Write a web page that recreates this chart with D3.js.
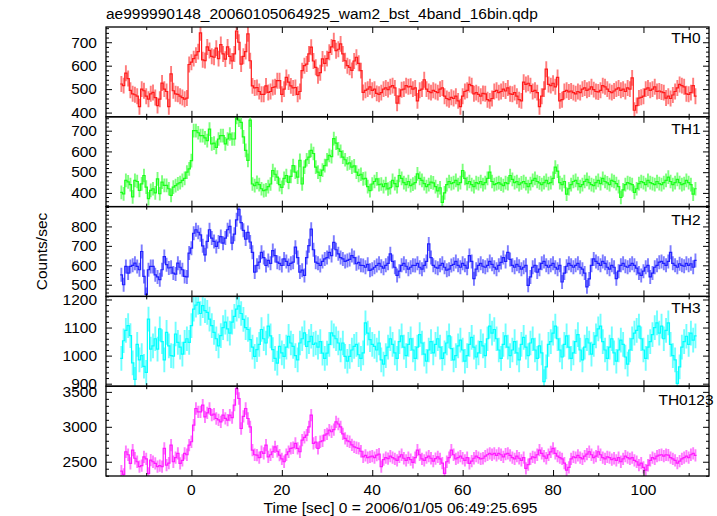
<!DOCTYPE html>
<html><head><meta charset="utf-8">
<script src="https://cdn.jsdelivr.net/npm/d3@7"></script>
<style>body{margin:0;background:#fff} text{font-family:"Liberation Sans",Arial,Helvetica,sans-serif;fill:#000}</style>
</head><body><svg id="c" width="717" height="516"></svg>
<script>
const titleText = "ae999990148_20060105064925_wam2_bst_4band_16bin.qdp";
const xTitle = "Time [sec] 0 = 2006/01/05 06:49:25.695";
const yTitle = "Counts/sec";
const bands = ["TH0","TH1","TH2","TH3","TH0123"];
const tStart = -15.5, binSize = 0.5;

const th0 = [522,515,568,545,495,480,476,470,425,500,
 493,470,457,480,486,464,430,457,526,500,
 490,425,565,493,480,478,470,464,457,462,
 605,615,630,645,660,740,625,622,680,665,
 640,636,675,630,690,650,628,680,640,620,
 650,748,700,607,640,660,736,621,514,505,
 507,490,478,478,514,486,490,507,510,536,
 536,478,500,550,530,514,505,507,478,490,
 579,600,607,650,679,620,593,557,570,629,
 610,630,657,680,707,664,670,693,650,621,
 600,593,580,620,636,610,579,486,495,500,
 510,495,500,482,478,485,500,505,498,510,
 515,505,440,470,497,500,515,510,512,500,
 505,450,495,500,540,500,490,485,495,490,
 485,500,505,470,460,455,465,460,470,450,
 425,470,490,495,520,515,480,485,478,470,
 482,480,455,450,460,490,495,485,490,500,
 492,505,480,478,485,470,455,450,530,520,
 525,515,490,495,485,425,470,500,585,520,
 515,525,510,550,450,455,490,495,488,492,
 485,480,490,485,500,505,495,500,510,498,
 490,488,495,515,510,500,490,485,492,500,
 505,495,500,490,505,500,548,410,430,462,
 465,470,500,505,495,500,510,490,492,488,
 485,462,470,460,475,490,505,520,515,510,
 480,478,485,515,470];

const th1 = [403,395,460,453,440,381,460,455,412,444,
 484,428,372,412,420,400,468,396,452,436,
 436,420,388,428,435,444,450,460,470,500,
 516,556,700,700,690,676,676,665,652,708,
 636,640,620,660,676,676,636,660,684,660,
 660,764,751,740,670,605,557,751,443,435,
 451,440,420,411,415,430,443,508,490,476,
 440,427,470,484,451,480,532,500,476,557,
 443,524,560,573,605,590,524,500,484,510,
 532,560,581,575,662,640,613,600,573,560,
 540,545,524,530,500,484,490,468,470,430,
 411,443,455,468,440,443,430,445,419,425,
 460,445,430,484,470,450,440,455,435,442,
 450,492,470,460,445,430,440,452,448,430,
 410,425,354,400,440,455,445,450,460,440,
 450,508,470,445,455,440,430,450,445,455,
 440,450,470,500,455,440,445,450,442,435,
 450,445,484,465,450,455,440,448,455,445,
 430,445,460,470,455,448,440,450,460,445,
 450,470,524,505,450,440,455,394,420,440,
 455,460,445,430,440,455,465,450,440,435,
 450,460,445,470,455,448,440,460,455,445,
 430,378,415,440,450,445,440,403,420,445,
 455,450,440,460,450,445,440,455,445,440,
 450,460,476,455,440,450,465,450,440,445,
 460,450,440,394,420];

const th2 = [551,500,594,560,594,600,611,594,577,671,
 543,450,577,594,594,551,540,526,577,645,
 603,586,590,560,555,611,590,577,543,540,
 663,688,765,783,770,757,700,654,723,783,
 740,723,697,720,748,714,740,783,800,714,
 760,834,888,820,780,735,769,720,667,565,
 600,616,667,640,599,625,610,676,650,616,
 610,599,633,620,599,610,616,693,640,565,
 575,548,640,701,786,680,616,610,599,620,
 633,640,667,650,718,680,659,640,633,620,
 625,630,650,640,608,615,600,599,590,605,
 574,580,590,599,610,595,585,600,610,659,
 620,590,548,570,600,610,595,580,590,600,
 599,610,590,580,600,620,710,640,600,590,
 585,600,610,590,575,580,599,605,620,600,
 590,610,600,585,650,620,531,580,600,610,
 595,590,600,620,605,590,580,600,615,640,
 620,667,630,600,590,605,595,580,590,600,
 497,540,590,600,565,580,610,620,600,590,
 600,610,590,580,600,514,560,595,610,600,
 590,600,610,590,580,560,489,530,600,633,
 620,610,600,620,610,590,580,600,590,531,
 570,600,610,595,590,600,610,600,585,560,
 548,570,590,600,540,560,590,600,616,620,
 610,600,620,667,610,600,590,608,600,595,
 610,600,608,590,625];

const th3 = [990,1053,1090,1107,1071,974,915,1040,985,1000,
 962,940,1130,1023,1035,1060,1023,1095,1050,985,
 1083,1035,1000,998,1077,1047,1030,1005,1047,1060,
 1047,1107,1166,1180,1190,1150,1178,1160,1154,1130,
 1107,1083,1060,1035,1071,1100,1119,1095,1080,1119,
 1140,1166,1177,1150,1129,1100,1093,1057,1030,997,
 1021,1040,1093,1060,1045,1105,1070,1021,990,973,
 1033,1010,997,1030,1069,1045,1033,1000,985,1045,
 1060,1081,1033,1050,1069,1040,1045,1030,1050,1009,
 990,1009,1040,1081,1070,1060,1045,1020,1045,997,
 980,997,1020,1033,1040,1003,990,1010,1117,1080,
 1057,1040,1033,1020,1045,985,970,1000,1030,1060,
 1040,1010,990,1050,1070,1030,1000,1040,1060,1020,
 990,1030,1075,1045,1005,980,1020,1050,1010,1040,
 1060,1030,990,1010,1045,1070,1025,985,1000,1035,
 1055,1020,980,1000,1040,1065,1030,995,1010,1050,
 1035,1000,1060,1105,1080,1093,1060,1020,990,1040,
 1070,1030,1000,1020,1050,1010,985,1040,1065,1030,
 1000,1045,1060,1020,990,1035,1010,907,960,1040,
 1050,1080,1105,1060,1020,995,1040,1070,1030,990,
 1010,1050,1075,1020,985,1030,1060,1045,1005,1040,
 1070,1095,1105,1050,1020,990,1030,1060,1010,980,
 1020,1055,1040,995,970,1020,1060,1080,1090,1105,
 1060,1020,990,1030,1050,1075,1100,1117,1080,1105,
 1060,1090,1117,1040,1000,985,901,960,1030,1050,
 1069,1040,1080,1055,1070];

const th0123 = [2367,2320,2643,2600,2476,2667,2550,2500,2430,2445,
 2571,2540,2333,2524,2500,2476,2430,2445,2430,2690,
 2452,2480,2738,2500,2560,2619,2476,2520,2619,2600,
 2738,2786,3024,3262,3214,3214,3310,3143,3200,3262,
 3167,3180,3119,3100,3071,3167,3120,3095,3167,3130,
 3310,3548,3405,2976,3150,3262,3119,3000,2667,2600,
 2595,2560,2643,2620,2738,2571,2600,2643,2714,2650,
 2595,2540,2500,2600,2643,2690,2700,2762,2690,2643,
 2810,2850,2881,3000,3167,2762,2780,2690,2786,2800,
 2881,2900,2952,2929,2960,3071,3040,3000,2900,2833,
 2800,2786,2740,2714,2700,2690,2650,2571,2590,2560,
 2571,2580,2560,2595,2610,2430,2530,2560,2545,2580,
 2560,2540,2520,2570,2600,2550,2520,2560,2530,2490,
 2560,2667,2600,2540,2520,2560,2580,2550,2510,2545,
 2570,2540,2480,2333,2500,2560,2667,2600,2540,2560,
 2580,2550,2520,2560,2476,2510,2550,2580,2560,2540,
 2550,2580,2600,2619,2600,2620,2590,2619,2600,2570,
 2610,2619,2590,2560,2540,2580,2550,2520,2560,2405,
 2460,2540,2570,2560,2600,2667,2620,2580,2550,2600,
 2640,2690,2620,2580,2560,2540,2480,2381,2420,2540,
 2570,2560,2590,2560,2540,2580,2610,2643,2600,2560,
 2580,2643,2600,2560,2540,2570,2560,2530,2550,2520,
 2560,2500,2540,2580,2560,2540,2560,2520,2500,2452,
 2480,2420,2381,2450,2520,2560,2540,2580,2595,2600,
 2580,2600,2595,2560,2540,2520,2480,2510,2540,2560,
 2580,2560,2600,2619,2590];

const errHalf = [34, 33, 36, 44, 88];
const xDomain = [-18.9, 114.5];
const xMajor = [0, 20, 40, 60, 80, 100];
const xMinor = [-10, 10, 30, 50, 70, 90, 110];
const yDomains = [[382,765],[334,767],[440,902],[891,1211],[2296,3581]];
const yMajor = [[400,500,600,700],[400,500,600,700],[500,600,700,800],[900,1000,1100,1200],[2500,3000,3500]];
const yMinorStep = [20, 20, 20, 20, 100];
const lineColors = ["#ff1a1a","#1aff1a","#2020ff","#00ffff","#ff1aff"];
const errColors = ["#ff7c7c","#7cff7c","#7c7cff","#70ffff","#ff7cff"];
const labelDy = [16, 17, 18, 16.5, 19];

const series = [th0, th1, th2, th3, th0123];

const W = 717, H = 516, L = 106, R = 709, T = 27, B = 476;
const FS = 15.5;
const pH = (B - T) / series.length;
const svg = d3.select("#c");
svg.append("rect").attr("width", W).attr("height", H).attr("fill", "#fff");
const x = d3.scaleLinear().domain(xDomain).range([L, R]);

function ticks(axisFn, scale, vals, size, tr) {
  const g = svg.append("g").attr("transform", tr)
    .call(axisFn(scale).tickValues(vals).tickSize(-size).tickFormat(""));
  g.select(".domain").remove();
  g.selectAll(".tick line").attr("stroke", "#000").attr("stroke-width", 1);
}

series.forEach((vals, i) => {
  const top = T + i * pH, bot = top + pH;
  const y = d3.scaleLinear().domain(yDomains[i]).range([bot, top]);
  const data = vals.map((v, k) => ({ t: tStart + k * binSize, v }));
  const cid = "clip" + i;
  svg.append("clipPath").attr("id", cid).append("rect")
    .attr("x", L).attr("y", top).attr("width", R - L).attr("height", pH);
  const g = svg.append("g").attr("clip-path", `url(#${cid})`);
  g.selectAll("line").data(data).join("line")
    .attr("x1", d => x(d.t)).attr("x2", d => x(d.t))
    .attr("y1", d => y(d.v - errHalf[i])).attr("y2", d => y(d.v + errHalf[i]))
    .attr("stroke", errColors[i]).attr("stroke-width", 1.9);
  const pts = data.flatMap(d => [[d.t - binSize / 2, d.v], [d.t + binSize / 2, d.v]]);
  g.append("path")
    .attr("d", d3.line().x(p => x(p[0])).y(p => y(p[1]))(pts))
    .attr("fill", "none").attr("stroke", lineColors[i]).attr("stroke-width", 1.2);

  const step = yMinorStep[i];
  const minor = d3.range(Math.ceil(yDomains[i][0] / step) * step, yDomains[i][1], step)
    .filter(v => !yMajor[i].includes(v));
  ticks(d3.axisLeft, y, yMajor[i], 6, `translate(${L},0)`);
  ticks(d3.axisLeft, y, minor, 3, `translate(${L},0)`);
  ticks(d3.axisRight, y, yMajor[i], 6, `translate(${R},0)`);
  ticks(d3.axisRight, y, minor, 3, `translate(${R},0)`);
  ticks(d3.axisTop, x, xMajor, 6, `translate(0,${top})`);
  ticks(d3.axisTop, x, xMinor, 3, `translate(0,${top})`);
  ticks(d3.axisBottom, x, xMajor, 6, `translate(0,${bot})`);
  ticks(d3.axisBottom, x, xMinor, 3, `translate(0,${bot})`);

  svg.append("rect").attr("x", L).attr("y", top).attr("width", R - L).attr("height", pH)
    .attr("fill", "none").attr("stroke", "#000").attr("stroke-width", 1.3);

  svg.append("g").selectAll("text").data(yMajor[i]).join("text")
    .attr("x", L - 9).attr("y", d => y(d)).attr("dy", "0.34em")
    .attr("text-anchor", "end").attr("font-size", FS).text(d => d);

  svg.append("text").attr("x", 686).attr("y", top + labelDy[i])
    .attr("text-anchor", "middle").attr("font-size", FS).text(bands[i]);
});

svg.append("g").selectAll("text").data(xMajor).join("text")
  .attr("x", d => x(d)).attr("y", 495).attr("text-anchor", "middle")
  .attr("font-size", FS).text(d => d);

svg.append("text").attr("x", 106).attr("y", 18.5).attr("font-size", FS).text(titleText);
svg.append("text").attr("x", (L + R) / 2 - 7).attr("y", 513).attr("text-anchor", "middle")
  .attr("font-size", FS).text(xTitle);
svg.append("text").attr("transform", `translate(47,${(T + B) / 2}) rotate(-90)`)
  .attr("text-anchor", "middle").attr("font-size", FS).text(yTitle);
</script></body></html>
